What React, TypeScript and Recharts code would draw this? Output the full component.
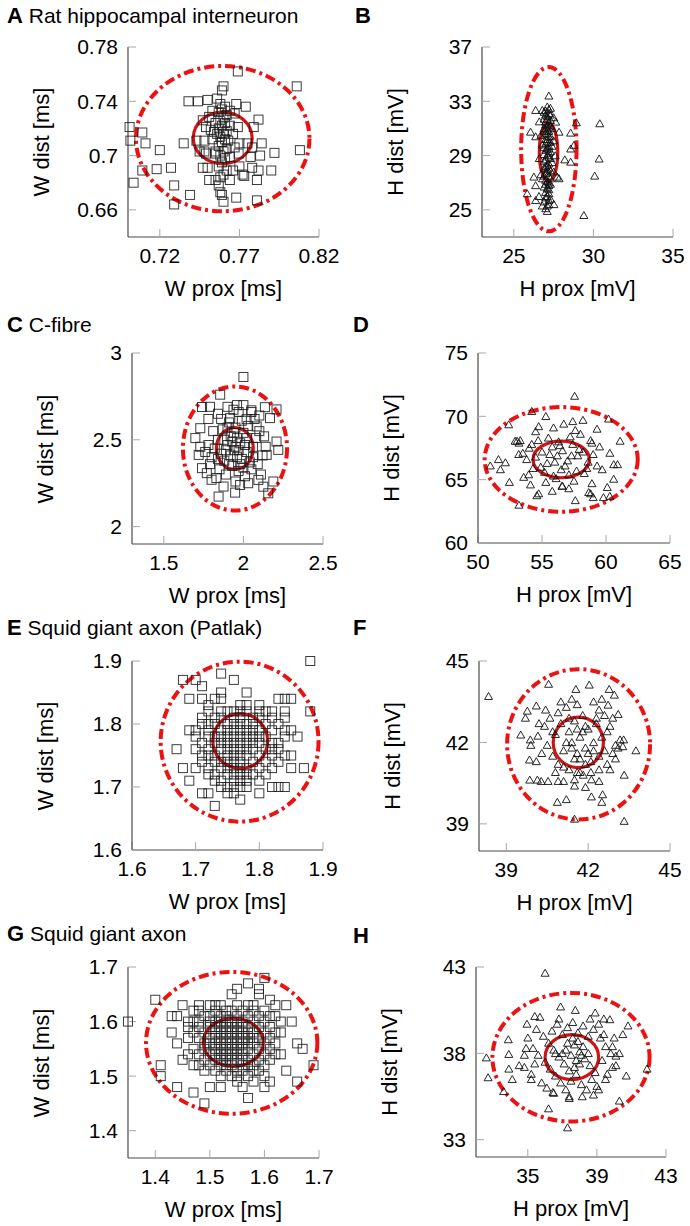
import { ScatterChart, Scatter, XAxis, YAxis, ReferenceArea } from 'recharts'

type Pt = [number, number]

// A: rat hippocampal interneuron, W prox / W dist
const ratW: Pt[] = [
  [0.769, 0.762], [0.806, 0.751], [0.760, 0.751], [0.759, 0.748], [0.738, 0.740], [0.744, 0.740], [0.750, 0.741], [0.756, 0.742],
  [0.701, 0.721], [0.709, 0.717], [0.7015, 0.711], [0.711, 0.709], [0.720, 0.704], [0.735, 0.709], [0.7035, 0.680], [0.709, 0.689],
  [0.718, 0.690], [0.727, 0.691], [0.729, 0.678], [0.729, 0.664], [0.739, 0.671], [0.760, 0.666], [0.759, 0.671], [0.768, 0.669],
  [0.781, 0.667], [0.790, 0.689], [0.792, 0.702], [0.808, 0.704], [0.782, 0.7265], [0.779, 0.721], [0.784, 0.709], [0.783, 0.700],
  [0.781, 0.682], [0.782, 0.689], [0.774, 0.736], [0.768, 0.738],
  [0.747, 0.726], [0.749, 0.721], [0.748, 0.711], [0.748, 0.703], [0.747, 0.691], [0.750, 0.691], [0.751, 0.682], [0.755, 0.682],
  [0.757, 0.678], [0.758, 0.673], [0.764, 0.682], [0.766, 0.689], [0.770, 0.692], [0.772, 0.686], [0.773, 0.685], [0.778, 0.691],
  [0.777, 0.699], [0.775, 0.709], [0.770, 0.709], [0.7695, 0.7015], [0.769, 0.721], [0.767, 0.731], [0.764, 0.733], [0.753, 0.733],
  [0.751, 0.7285], [0.754, 0.7175], [0.755, 0.7015], [0.749, 0.7015], [0.745, 0.703], [0.743, 0.711], [0.778, 0.706],
  [0.757, 0.692], [0.759, 0.695], [0.761, 0.698], [0.758, 0.700], [0.760, 0.703], [0.762, 0.705], [0.757, 0.707], [0.759, 0.710],
  [0.761, 0.712], [0.758, 0.714], [0.760, 0.716], [0.762, 0.718], [0.757, 0.720], [0.759, 0.722], [0.761, 0.724], [0.758, 0.726],
  [0.760, 0.728], [0.762, 0.730], [0.757, 0.732], [0.759, 0.734], [0.761, 0.736], [0.758, 0.738], [0.756, 0.716], [0.763, 0.711],
  [0.755, 0.724], [0.764, 0.722], [0.755, 0.703], [0.764, 0.699], [0.753, 0.712], [0.766, 0.716], [0.752, 0.719], [0.767, 0.706],
  [0.760, 0.686], [0.758, 0.684], [0.762, 0.689],
]
const ratWInner = [0.7595, 0.713, 0.0185, 0.019]
const ratWOuter = [0.7595, 0.7125, 0.0545, 0.0535]

// B: rat hippocampal interneuron, H prox / H dist
const ratH: Pt[] = [
  [27.2, 33.4], [28.93, 31.43], [30.4, 31.36], [30.36, 28.76], [30.08, 27.5], [29.4, 24.6], [28.78, 29.77], [28.57, 29.5],
  [28.57, 30.67], [28.2, 28.7], [28.57, 28.53], [27.84, 30.74], [27.63, 31.48], [27.73, 27.43], [27.84, 27.31], [25.84, 26.2],
  [26.05, 30.74], [26.37, 32.34], [26.79, 32.34], [26.37, 30.4], [26.26, 27.43], [26.37, 26.8], [26.37, 25.7], [26.79, 25.3],
  [27.1, 24.9], [27.52, 25.4], [26.58, 26.0],
  [27.0, 32.3], [27.2, 32.1], [27.3, 32.5], [27.1, 31.9], [26.9, 31.7], [27.3, 31.6], [27.0, 31.3], [27.2, 31.1], [27.4, 31.0],
  [26.9, 30.8], [27.1, 30.6], [27.3, 30.4], [27.0, 30.2], [27.2, 30.0], [26.8, 29.8], [27.4, 29.7], [27.1, 29.5], [27.3, 29.3],
  [26.9, 29.1], [27.2, 28.9], [27.0, 28.7], [27.4, 28.5], [27.1, 28.3], [26.9, 28.1], [27.3, 27.9], [27.0, 27.7], [27.2, 27.5],
  [26.8, 27.3], [27.1, 27.1], [27.3, 26.9], [26.9, 26.7], [27.2, 26.5], [27.0, 26.3], [27.1, 26.0], [27.3, 25.8], [26.9, 25.6],
  [27.2, 25.4], [27.0, 32.0], [27.2, 31.4], [27.1, 30.9], [27.0, 29.9], [27.2, 29.2], [27.1, 28.0], [27.2, 27.0], [26.7, 30.5],
  [27.5, 30.1], [26.6, 28.8], [27.6, 29.0], [26.7, 27.6], [27.5, 27.8], [26.6, 31.5], [27.5, 31.8],
  [27.1, 32.6], [27.2, 32.4], [26.9, 32.2], [27.3, 32.0], [27.1, 31.7], [27.0, 31.5], [27.3, 31.2], [27.1, 31.2], [26.9, 31.0],
  [27.2, 30.8], [27.0, 30.6], [27.2, 30.4], [27.1, 30.2], [27.3, 30.0], [26.9, 29.6], [27.2, 29.7], [27.0, 29.4], [27.2, 29.5],
  [27.1, 29.0], [27.3, 28.8], [26.9, 28.6], [27.2, 28.4], [27.0, 28.2], [27.2, 28.1], [27.1, 27.8], [26.9, 27.5], [27.3, 27.3],
  [27.0, 27.2], [27.2, 26.8], [27.1, 26.6], [27.0, 26.9], [27.2, 26.2], [27.0, 25.9], [27.2, 25.7], [27.1, 25.3], [27.0, 25.1],
]
const ratHInner = [27.18, 29.25, 0.58, 2.15]
const ratHOuter = [27.2, 29.47, 1.74, 6.05]

// C: C-fibre, W
const cFibreW: Pt[] = [
  [2.0, 2.862], [1.854, 2.76], [1.74, 2.689], [2.135, 2.688], [2.208, 2.675], [2.167, 2.625], [1.698, 2.51], [1.729, 2.567],
  [1.729, 2.46], [1.719, 2.413], [1.74, 2.337], [1.77, 2.308], [1.844, 2.173], [1.948, 2.196], [1.979, 2.24], [2.125, 2.23],
  [2.156, 2.192], [2.188, 2.26], [2.219, 2.442], [2.208, 2.49], [2.146, 2.413], [2.094, 2.269], [2.083, 2.577], [1.9375, 2.673],
  [1.917, 2.625], [2.02, 2.619], [1.78, 2.62], [1.80, 2.27], [1.875, 2.231],
  [1.79, 2.69], [1.84, 2.65], [1.90, 2.69], [1.96, 2.70], [2.00, 2.70], [2.05, 2.67], [2.10, 2.64],
  [1.80, 2.40], [1.82, 2.45], [1.84, 2.50], [1.86, 2.42], [1.88, 2.38], [1.90, 2.47], [1.92, 2.52], [1.94, 2.44], [1.96, 2.40],
  [1.98, 2.48], [2.00, 2.54], [2.02, 2.43], [2.04, 2.37], [2.06, 2.46], [2.08, 2.51], [1.85, 2.33], [1.89, 2.30], [1.93, 2.35],
  [1.97, 2.32], [2.01, 2.29], [2.05, 2.33], [2.09, 2.36], [2.12, 2.41], [1.87, 2.56], [1.91, 2.60], [1.95, 2.57], [1.99, 2.61],
  [2.03, 2.58], [2.07, 2.62], [2.10, 2.55], [1.78, 2.47], [1.76, 2.43], [1.79, 2.36], [1.83, 2.28], [1.95, 2.26], [2.03, 2.25],
  [2.11, 2.30], [2.14, 2.46], [2.13, 2.52], [1.81, 2.55], [1.86, 2.62], [1.97, 2.66], [2.05, 2.66], [1.93, 2.49], [1.95, 2.46],
  [1.97, 2.44], [1.92, 2.41], [1.99, 2.39], [1.94, 2.54], [2.01, 2.47], [1.89, 2.44], [1.91, 2.36], [2.00, 2.34], [1.96, 2.51],
  [1.88, 2.50], [2.06, 2.40], [1.84, 2.39], [1.90, 2.57], [2.02, 2.51], [1.98, 2.36],
]
const cFibreWInner = [1.946, 2.45, 0.116, 0.12]
const cFibreWOuter = [1.947, 2.45, 0.327, 0.357]

// D: C-fibre, H
const cFibreH: Pt[] = [
  [57.55, 71.6], [54.2, 70.4], [55.3, 70.0], [60.2, 69.8], [56.7, 69.4], [57.4, 69.6], [58.2, 69.7], [55.9, 69.1], [54.74, 69.2],
  [54.5, 68.8], [52.4, 69.35], [53.05, 68.05], [52.9, 68.05], [50.96, 66.1], [51.6, 66.6], [52.14, 66.35], [51.75, 65.8], [52.45, 64.8],
  [53.2, 63.0], [54.6, 63.75], [54.74, 63.9], [55.8, 64.1], [56.56, 64.5], [57.6, 63.36], [58.65, 64.0], [58.8, 63.9], [59.0, 63.6],
  [59.8, 63.6], [60.1, 64.4], [60.3, 63.7], [60.6, 65.05], [60.6, 66.2], [60.9, 66.2], [61.1, 68.05], [60.3, 67.1], [59.7, 65.8],
  [59.3, 69.0], [58.9, 67.9], [53.18, 67.0], [53.57, 65.2], [53.96, 65.4],
  [54.0, 67.5], [54.5, 66.8], [55.0, 67.2], [55.4, 66.3], [55.8, 67.6], [56.2, 66.9], [56.6, 67.3], [57.0, 66.5], [57.4, 67.8],
  [57.8, 66.9], [58.2, 67.2], [58.6, 66.4], [59.0, 67.0], [55.2, 65.6], [55.9, 65.3], [56.5, 65.8], [57.1, 65.4], [57.7, 65.7],
  [58.3, 65.5], [54.3, 65.9], [53.8, 66.6], [53.5, 67.1], [54.7, 68.1], [55.5, 68.3], [56.3, 68.0], [57.2, 68.4], [57.6, 68.9],
  [58.0, 68.6], [58.8, 68.1], [59.3, 66.1], [59.5, 67.6], [56.0, 66.4], [56.8, 66.1], [57.3, 66.9], [55.6, 67.0], [56.4, 67.7],
  [57.9, 67.4], [54.9, 66.0], [58.5, 65.9], [56.1, 65.1], [57.5, 64.9], [55.3, 64.8], [54.1, 64.6], [58.9, 64.7], [57.1, 64.3],
  [56.6, 64.5], [53.3, 68.1], [53.2, 67.9], [54.2, 67.8],
]
const cFibreHInner = [56.5, 66.6, 2.2, 1.45]
const cFibreHOuter = [56.5, 66.6, 5.98, 4.13]

// E: squid giant axon (Patlak), W
const patlakW: Pt[] = [
  [1.88, 1.90], [1.68, 1.87], [1.70, 1.87], [1.71, 1.86], [1.74, 1.88], [1.76, 1.87], [1.74, 1.85], [1.78, 1.85], [1.69, 1.84],
  [1.71, 1.84], [1.73, 1.84], [1.74, 1.84], [1.72, 1.83], [1.77, 1.83], [1.78, 1.83], [1.80, 1.83], [1.83, 1.84], [1.84, 1.84],
  [1.85, 1.84], [1.88, 1.82], [1.84, 1.82], [1.69, 1.79], [1.70, 1.79], [1.67, 1.76], [1.68, 1.73], [1.69, 1.71], [1.71, 1.69],
  [1.72, 1.69], [1.73, 1.67], [1.77, 1.68], [1.80, 1.69], [1.82, 1.70], [1.83, 1.70], [1.84, 1.70], [1.85, 1.73], [1.87, 1.73],
  [1.85, 1.75], [1.86, 1.78], [1.85, 1.79], [1.84, 1.79], [1.84, 1.81], [1.82, 1.82],
  [1.72, 1.82], [1.74, 1.82], [1.75, 1.82], [1.76, 1.82], [1.77, 1.82], [1.78, 1.82], [1.80, 1.82], [1.81, 1.82],
  [1.71, 1.81], [1.73, 1.81], [1.74, 1.81], [1.76, 1.81], [1.77, 1.81], [1.79, 1.81], [1.80, 1.81], [1.82, 1.81],
  [1.71, 1.80], [1.72, 1.80], [1.73, 1.80], [1.75, 1.80], [1.76, 1.80], [1.77, 1.80], [1.78, 1.80], [1.79, 1.80], [1.81, 1.80], [1.83, 1.80],
  [1.72, 1.79], [1.74, 1.79], [1.75, 1.79], [1.76, 1.79], [1.77, 1.79], [1.78, 1.79], [1.79, 1.79], [1.80, 1.79], [1.82, 1.79],
  [1.70, 1.78], [1.72, 1.78], [1.73, 1.78], [1.74, 1.78], [1.75, 1.78], [1.76, 1.78], [1.77, 1.78], [1.78, 1.78], [1.79, 1.78], [1.80, 1.78], [1.81, 1.78], [1.84, 1.78],
  [1.71, 1.77], [1.73, 1.77], [1.74, 1.77], [1.75, 1.77], [1.76, 1.77], [1.77, 1.77], [1.78, 1.77], [1.79, 1.77], [1.80, 1.77], [1.82, 1.77], [1.83, 1.77],
  [1.70, 1.76], [1.72, 1.76], [1.74, 1.76], [1.75, 1.76], [1.76, 1.76], [1.77, 1.76], [1.78, 1.76], [1.79, 1.76], [1.81, 1.76], [1.82, 1.76], [1.83, 1.76],
  [1.71, 1.75], [1.72, 1.75], [1.73, 1.75], [1.75, 1.75], [1.76, 1.75], [1.77, 1.75], [1.78, 1.75], [1.80, 1.75], [1.82, 1.75], [1.84, 1.75],
  [1.71, 1.74], [1.73, 1.74], [1.74, 1.74], [1.75, 1.74], [1.76, 1.74], [1.77, 1.74], [1.79, 1.74], [1.81, 1.74], [1.83, 1.74],
  [1.70, 1.73], [1.72, 1.73], [1.74, 1.73], [1.75, 1.73], [1.76, 1.73], [1.77, 1.73], [1.78, 1.73], [1.80, 1.73], [1.82, 1.73],
  [1.72, 1.72], [1.73, 1.72], [1.75, 1.72], [1.76, 1.72], [1.77, 1.72], [1.78, 1.72], [1.79, 1.72], [1.81, 1.72],
  [1.73, 1.71], [1.74, 1.71], [1.76, 1.71], [1.77, 1.71], [1.78, 1.71], [1.80, 1.71],
  [1.74, 1.70], [1.75, 1.70], [1.76, 1.70], [1.77, 1.70], [1.78, 1.70], [1.75, 1.69], [1.76, 1.69],
]
const patlakWInner = [1.77, 1.773, 0.043, 0.0435]
const patlakWOuter = [1.769, 1.772, 0.124, 0.127]

// F: squid giant axon (Patlak), H
const patlakH: Pt[] = [
  [38.35, 43.7], [40.55, 44.15], [42.04, 44.12], [41.55, 43.96], [42.77, 43.96], [42.96, 43.75], [40.1, 43.35], [40.44, 43.2],
  [39.77, 43.16], [39.7, 42.9], [39.53, 42.28], [39.88, 42.1], [40.16, 42.24], [39.85, 41.36], [43.75, 41.7], [43.32, 40.8],
  [43.27, 41.85], [43.17, 42.1], [43.1, 43.04], [42.73, 43.38], [39.86, 40.62], [40.14, 40.62], [40.28, 40.57], [40.53, 40.57],
  [40.9, 40.57], [41.1, 40.57], [41.5, 40.63], [41.82, 40.8], [42.12, 40.63], [42.4, 40.57], [40.87, 39.8], [41.2, 39.9],
  [41.5, 39.18], [42.12, 40.0], [42.5, 39.8], [42.53, 40.08], [43.32, 39.1], [41.5, 40.4], [41.9, 40.35],
  [40.4, 42.6], [40.6, 42.9], [40.8, 42.3], [40.9, 43.1], [41.0, 42.7], [41.2, 43.3], [41.3, 42.4], [41.4, 42.0], [41.5, 42.8],
  [41.6, 41.6], [41.7, 42.2], [41.8, 43.0], [41.9, 41.8], [42.0, 42.5], [42.1, 41.3], [42.2, 42.0], [42.3, 42.7], [42.4, 41.5],
  [42.5, 42.2], [42.6, 41.7], [42.7, 41.2], [42.8, 42.6], [42.9, 41.6], [43.0, 41.4], [43.1, 41.8], [40.5, 41.9], [40.7, 41.5],
  [40.9, 41.2], [41.1, 41.7], [41.3, 41.0], [41.5, 41.4], [41.7, 40.9], [41.9, 41.2], [42.1, 40.9], [41.2, 42.0], [41.6, 42.5],
  [41.8, 42.4], [42.0, 41.6], [41.4, 41.8], [41.9, 42.6], [42.3, 42.9], [42.6, 43.0], [42.9, 42.9], [40.7, 42.4], [40.3, 41.6],
  [40.1, 41.3], [39.9, 41.9], [40.2, 42.7], [41.0, 43.5], [41.4, 43.6], [41.6, 43.4], [42.2, 43.5], [42.4, 43.2], [41.1, 41.1],
  [41.6, 40.9], [42.4, 41.0], [42.8, 41.0], [43.0, 41.9], [42.7, 42.4], [41.3, 42.9], [42.5, 43.6], [40.8, 40.9], [43.3, 42.1],
  [42.2, 41.7], [41.7, 41.4],
]
const patlakHInner = [41.64, 42.0, 0.92, 0.93]
const patlakHOuter = [41.65, 41.93, 2.62, 2.77]

// G: squid giant axon, W
const squidW: Pt[] = [
  [1.35, 1.60], [1.40, 1.64], [1.60, 1.68], [1.57, 1.67], [1.55, 1.66], [1.54, 1.65], [1.59, 1.65], [1.59, 1.66], [1.61, 1.64],
  [1.45, 1.63], [1.43, 1.61], [1.44, 1.61], [1.43, 1.58], [1.44, 1.56], [1.45, 1.53], [1.41, 1.52], [1.41, 1.50], [1.44, 1.48],
  [1.47, 1.47], [1.49, 1.45], [1.50, 1.48], [1.52, 1.48], [1.57, 1.46], [1.56, 1.48], [1.60, 1.48], [1.61, 1.49], [1.66, 1.49],
  [1.69, 1.52], [1.64, 1.51], [1.66, 1.56], [1.67, 1.55], [1.65, 1.60], [1.64, 1.63], [1.62, 1.63], [1.63, 1.54], [1.46, 1.54],
  [1.46, 1.59], [1.63, 1.58], [1.62, 1.61], [1.63, 1.60],
  [1.48, 1.63], [1.50, 1.63], [1.51, 1.63], [1.52, 1.63], [1.55, 1.63], [1.57, 1.63], [1.58, 1.63],
  [1.47, 1.62], [1.48, 1.62], [1.51, 1.62], [1.53, 1.62], [1.54, 1.62], [1.56, 1.62], [1.58, 1.62], [1.60, 1.62],
  [1.49, 1.61], [1.50, 1.61], [1.52, 1.61], [1.53, 1.61], [1.55, 1.61], [1.57, 1.61], [1.59, 1.61], [1.61, 1.61],
  [1.46, 1.60], [1.47, 1.60], [1.48, 1.60], [1.50, 1.60], [1.51, 1.60], [1.52, 1.60], [1.53, 1.60], [1.54, 1.60], [1.55, 1.60], [1.56, 1.60], [1.58, 1.60], [1.60, 1.60],
  [1.48, 1.59], [1.50, 1.59], [1.51, 1.59], [1.52, 1.59], [1.53, 1.59], [1.54, 1.59], [1.55, 1.59], [1.56, 1.59], [1.57, 1.59], [1.59, 1.59], [1.61, 1.59],
  [1.47, 1.58], [1.49, 1.58], [1.51, 1.58], [1.52, 1.58], [1.53, 1.58], [1.54, 1.58], [1.55, 1.58], [1.56, 1.58], [1.57, 1.58], [1.58, 1.58], [1.60, 1.58], [1.62, 1.58],
  [1.46, 1.57], [1.48, 1.57], [1.50, 1.57], [1.51, 1.57], [1.52, 1.57], [1.53, 1.57], [1.54, 1.57], [1.55, 1.57], [1.56, 1.57], [1.57, 1.57], [1.58, 1.57], [1.59, 1.57], [1.61, 1.57],
  [1.49, 1.56], [1.50, 1.56], [1.51, 1.56], [1.52, 1.56], [1.53, 1.56], [1.54, 1.56], [1.55, 1.56], [1.56, 1.56], [1.57, 1.56], [1.58, 1.56], [1.60, 1.56], [1.62, 1.56],
  [1.47, 1.55], [1.49, 1.55], [1.51, 1.55], [1.52, 1.55], [1.53, 1.55], [1.54, 1.55], [1.55, 1.55], [1.56, 1.55], [1.57, 1.55], [1.59, 1.55], [1.61, 1.55],
  [1.48, 1.54], [1.50, 1.54], [1.51, 1.54], [1.52, 1.54], [1.53, 1.54], [1.54, 1.54], [1.55, 1.54], [1.56, 1.54], [1.58, 1.54], [1.60, 1.54], [1.62, 1.54],
  [1.49, 1.53], [1.51, 1.53], [1.52, 1.53], [1.53, 1.53], [1.54, 1.53], [1.55, 1.53], [1.56, 1.53], [1.57, 1.53], [1.59, 1.53], [1.61, 1.53],
  [1.47, 1.52], [1.48, 1.52], [1.50, 1.52], [1.52, 1.52], [1.53, 1.52], [1.54, 1.52], [1.56, 1.52], [1.57, 1.52], [1.58, 1.52], [1.60, 1.52],
  [1.49, 1.51], [1.51, 1.51], [1.53, 1.51], [1.55, 1.51], [1.56, 1.51], [1.58, 1.51], [1.59, 1.51],
  [1.52, 1.50], [1.54, 1.50], [1.55, 1.50], [1.57, 1.50], [1.60, 1.50], [1.55, 1.49], [1.58, 1.49],
]
const squidWInner = [1.543, 1.562, 0.055, 0.044]
const squidWOuter = [1.54, 1.561, 0.157, 0.13]

// H: squid giant axon, H
const squidH: Pt[] = [
  [36.0, 42.65], [32.6, 37.75], [32.7, 36.6], [33.6, 35.8], [33.87, 38.8], [33.9, 37.95], [33.9, 37.1], [34.1, 36.5], [34.5, 37.3],
  [34.8, 37.9], [35.0, 38.9], [34.95, 39.7], [35.4, 40.15], [35.7, 40.1], [36.9, 40.7], [37.75, 40.5], [38.9, 40.35], [39.75, 39.96],
  [40.8, 39.6], [40.5, 39.1], [39.9, 38.4], [40.1, 37.85], [40.1, 37.3], [40.7, 36.7], [40.3, 35.25], [41.9, 37.1], [36.2, 34.8],
  [37.3, 33.7], [36.45, 35.75], [37.4, 35.4], [38.15, 35.5], [39.1, 35.9], [39.5, 36.5], [35.2, 36.5],
  [35.5, 39.4], [35.9, 39.0], [36.2, 38.6], [36.5, 38.2], [36.8, 37.8], [37.1, 37.4], [37.4, 37.0], [37.7, 38.5], [38.0, 38.1],
  [38.3, 37.7], [38.6, 37.3], [38.9, 36.9], [39.2, 38.9], [39.5, 38.4], [39.8, 38.0], [36.0, 37.5], [36.3, 37.1], [36.6, 36.7],
  [36.9, 36.3], [37.2, 35.9], [37.5, 36.4], [37.8, 36.8], [38.1, 36.2], [38.4, 35.9], [38.7, 36.5], [39.0, 36.1], [35.6, 37.9],
  [35.3, 38.3], [35.2, 36.8], [35.8, 36.3], [36.4, 39.3], [36.7, 39.7], [37.0, 39.1], [37.3, 39.5], [37.6, 39.8], [37.9, 39.2],
  [38.2, 39.6], [38.5, 39.0], [38.8, 39.4], [39.1, 39.7], [39.4, 39.1], [37.2, 38.2], [37.5, 37.9], [37.8, 37.6], [38.1, 37.9],
  [37.3, 38.6], [37.6, 38.9], [37.9, 38.7], [38.2, 38.4], [37.0, 38.0], [37.7, 37.2], [38.0, 37.4], [36.6, 38.0], [38.5, 38.0],
  [39.3, 37.6], [39.6, 36.8], [39.9, 37.2], [36.1, 36.0], [36.5, 35.7], [37.4, 35.5], [38.8, 35.6], [40.0, 38.9], [40.3, 38.0],
  [36.8, 40.0], [38.6, 40.0], [39.4, 40.0], [35.4, 37.4], [34.8, 37.2], [34.9, 38.3],
]
const squidHInner = [37.55, 37.78, 1.55, 1.3]
const squidHOuter = [37.5, 37.78, 4.55, 3.72]

const FONT = '"Liberation Sans", Arial, Helvetica, sans-serif'
const AXIS_STROKE = '#4a4a4a'
const TICK_STROKE = '#a8a8a8'

function SquareMark(props: any) {
  const { cx, cy } = props
  return <rect x={cx - 4.5} y={cy - 4.5} width={9} height={9} fill="none" stroke="#1a1a1a" strokeOpacity={0.85} strokeWidth={1} />
}

function TriangleMark(props: any) {
  const { cx, cy } = props
  return (
    <path
      d={`M${cx},${cy - 3.8} L${cx + 4},${cy + 3.2} L${cx - 4},${cy + 3.2} Z`}
      fill="none"
      stroke="#111"
      strokeOpacity={0.9}
      strokeWidth={1}
    />
  )
}

function ellipseShape(dashed: boolean) {
  return (p: any) => {
    const w = Math.abs(p.width)
    const h = Math.abs(p.height)
    const x = Math.min(p.x, p.x + p.width)
    const y = Math.min(p.y, p.y + p.height)
    return (
      <ellipse
        cx={x + w / 2}
        cy={y + h / 2}
        rx={w / 2}
        ry={h / 2}
        fill="none"
        stroke={dashed ? '#ee1111' : '#d01414'}
        strokeWidth={dashed ? 4 : 3.2}
        strokeDasharray={dashed ? '10 4 3 4' : undefined}
      />
    )
  }
}

interface PanelProps {
  plot: [number, number, number, number] // left, top, right, bottom in page px
  xDomain: [number, number]
  yDomain: [number, number]
  xTicks: number[]
  yTicks: number[]
  points: Pt[]
  marker: 'square' | 'triangle'
  inner: number[]
  outer: number[]
  xLabel: string
  yLabel: string
}

function Panel({ plot, xDomain, yDomain, xTicks, yTicks, points, marker, inner, outer, xLabel, yLabel }: PanelProps) {
  const [left, top, right, bottom] = plot
  const mL = 10
  const yW = 60
  const mT = 14
  const mR = 24
  const xH = 34
  const mB = 6
  const width = right - left + mL + yW + mR
  const height = bottom - top + mT + xH + mB
  const data = points.map(([x, y]) => ({ x, y }))
  const tickStyle = { fontSize: 21, fill: '#000', fontFamily: FONT }

  return (
    <>
      <div style={{ position: 'absolute', left: left - mL - yW, top: top - mT }}>
        <ScatterChart width={width} height={height} margin={{ top: mT, right: mR, bottom: mB, left: mL }}>
          <XAxis
            type="number"
            dataKey="x"
            domain={xDomain}
            ticks={xTicks}
            interval={0}
            height={xH}
            tick={tickStyle}
            tickSize={-8}
            tickMargin={19}
            axisLine={{ stroke: AXIS_STROKE, strokeWidth: 1.2 }}
            tickLine={{ stroke: TICK_STROKE }}
          />
          <YAxis
            type="number"
            dataKey="y"
            domain={yDomain}
            ticks={yTicks}
            interval={0}
            width={yW}
            tick={tickStyle}
            tickSize={-8}
            tickMargin={18}
            axisLine={{ stroke: AXIS_STROKE, strokeWidth: 1.2 }}
            tickLine={{ stroke: TICK_STROKE }}
          />
          <ReferenceArea
            x1={outer[0] - outer[2]}
            x2={outer[0] + outer[2]}
            y1={outer[1] - outer[3]}
            y2={outer[1] + outer[3]}
            ifOverflow="visible"
            shape={ellipseShape(true)}
          />
          <ReferenceArea
            x1={inner[0] - inner[2]}
            x2={inner[0] + inner[2]}
            y1={inner[1] - inner[3]}
            y2={inner[1] + inner[3]}
            ifOverflow="visible"
            shape={ellipseShape(false)}
          />
          <Scatter
            data={data}
            isAnimationActive={false}
            shape={marker === 'square' ? SquareMark : TriangleMark}
          />
        </ScatterChart>
      </div>
      <div
        style={{
          position: 'absolute',
          left: (left + right) / 2,
          top: bottom + 52,
          transform: 'translate(-50%, -50%)',
          fontSize: 22,
          whiteSpace: 'nowrap',
          lineHeight: 1,
        }}
      >
        {xLabel}
      </div>
      <div
        style={{
          position: 'absolute',
          left: left - 86,
          top: (top + bottom) / 2,
          transform: 'translate(-50%, -50%) rotate(-90deg)',
          fontSize: 22,
          whiteSpace: 'nowrap',
          lineHeight: 1,
        }}
      >
        {yLabel}
      </div>
    </>
  )
}

function Title({ x, y, letter, text }: { x: number; y: number; letter: string; text?: string }) {
  return (
    <div style={{ position: 'absolute', left: x, top: y - 12, fontSize: 21, lineHeight: '24px', whiteSpace: 'nowrap' }}>
      <span style={{ fontWeight: 'bold', fontSize: 22 }}>{letter}</span>
      {text ? <span> {text}</span> : null}
    </div>
  )
}

export default function App() {
  return (
    <div
      style={{
        position: 'absolute',
        left: 0,
        top: 0,
        width: 690,
        height: 1226,
        background: '#fff',
        fontFamily: FONT,
        color: '#000',
        overflow: 'hidden',
      }}
    >
      <Title x={7} y={16} letter="A" text="Rat hippocampal interneuron" />
      <Title x={355} y={16} letter="B" />
      <Title x={7} y={325} letter="C" text="C-fibre" />
      <Title x={353} y={325} letter="D" />
      <Title x={7} y={628} letter="E" text="Squid giant axon (Patlak)" />
      <Title x={353} y={628} letter="F" />
      <Title x={7} y={934} letter="G" text="Squid giant axon" />
      <Title x={353} y={936} letter="H" />

      <Panel
        plot={[128, 47, 319, 237]}
        xDomain={[0.7, 0.82]}
        yDomain={[0.64, 0.78]}
        xTicks={[0.72, 0.77, 0.82]}
        yTicks={[0.66, 0.7, 0.74, 0.78]}
        points={ratW}
        marker="square"
        inner={ratWInner}
        outer={ratWOuter}
        xLabel="W prox [ms]"
        yLabel="W dist [ms]"
      />
      <Panel
        plot={[482, 47, 673, 237]}
        xDomain={[23, 35]}
        yDomain={[23, 37]}
        xTicks={[25, 30, 35]}
        yTicks={[25, 29, 33, 37]}
        points={ratH}
        marker="triangle"
        inner={ratHInner}
        outer={ratHOuter}
        xLabel="H prox [mV]"
        yLabel="H dist [mV]"
      />
      <Panel
        plot={[132, 353, 323, 544]}
        xDomain={[1.3, 2.5]}
        yDomain={[1.9, 3]}
        xTicks={[1.5, 2, 2.5]}
        yTicks={[2, 2.5, 3]}
        points={cFibreW}
        marker="square"
        inner={cFibreWInner}
        outer={cFibreWOuter}
        xLabel="W prox [ms]"
        yLabel="W dist [ms]"
      />
      <Panel
        plot={[478, 353, 670, 543]}
        xDomain={[50, 65]}
        yDomain={[60, 75]}
        xTicks={[50, 55, 60, 65]}
        yTicks={[60, 65, 70, 75]}
        points={cFibreH}
        marker="triangle"
        inner={cFibreHInner}
        outer={cFibreHOuter}
        xLabel="H prox [mV]"
        yLabel="H dist [mV]"
      />
      <Panel
        plot={[132, 661, 323, 850]}
        xDomain={[1.6, 1.9]}
        yDomain={[1.6, 1.9]}
        xTicks={[1.6, 1.7, 1.8, 1.9]}
        yTicks={[1.6, 1.7, 1.8, 1.9]}
        points={patlakW}
        marker="square"
        inner={patlakWInner}
        outer={patlakWOuter}
        xLabel="W prox [ms]"
        yLabel="W dist [ms]"
      />
      <Panel
        plot={[479, 661, 670, 851]}
        xDomain={[38, 45]}
        yDomain={[38, 45]}
        xTicks={[39, 42, 45]}
        yTicks={[39, 42, 45]}
        points={patlakH}
        marker="triangle"
        inner={patlakHInner}
        outer={patlakHOuter}
        xLabel="H prox [mV]"
        yLabel="H dist [mV]"
      />
      <Panel
        plot={[128, 967, 319, 1158]}
        xDomain={[1.35, 1.7]}
        yDomain={[1.35, 1.7]}
        xTicks={[1.4, 1.5, 1.6, 1.7]}
        yTicks={[1.4, 1.5, 1.6, 1.7]}
        points={squidW}
        marker="square"
        inner={squidWInner}
        outer={squidWOuter}
        xLabel="W prox [ms]"
        yLabel="W dist [ms]"
      />
      <Panel
        plot={[476, 967, 666, 1157]}
        xDomain={[32, 43]}
        yDomain={[32, 43]}
        xTicks={[35, 39, 43]}
        yTicks={[33, 38, 43]}
        points={squidH}
        marker="triangle"
        inner={squidHInner}
        outer={squidHOuter}
        xLabel="H prox [mV]"
        yLabel="H dist [mV]"
      />
    </div>
  )
}
